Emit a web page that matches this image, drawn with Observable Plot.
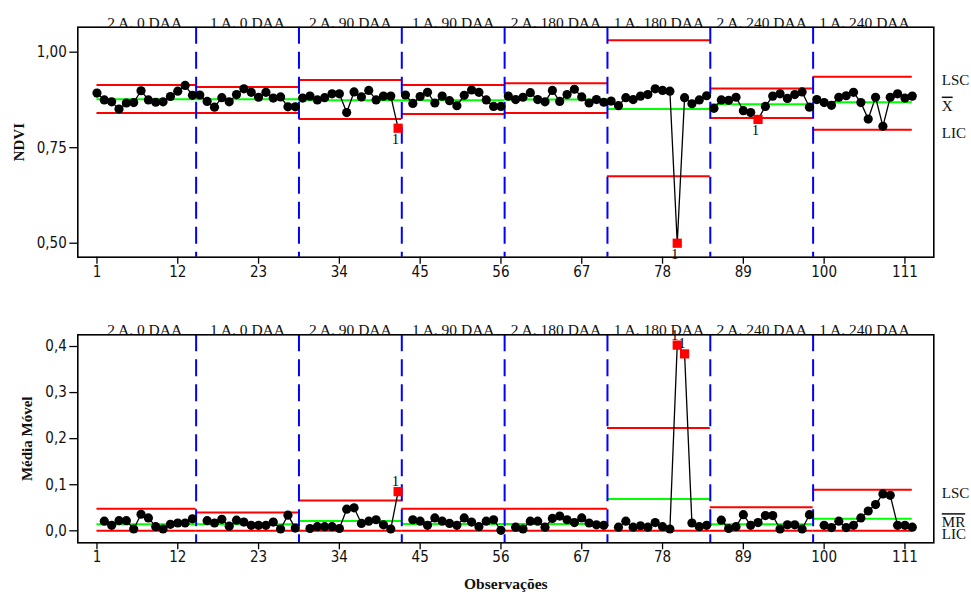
<!DOCTYPE html>
<html>
<head>
<meta charset="utf-8">
<script src="https://cdn.jsdelivr.net/npm/d3@7"></script>
<script src="https://cdn.jsdelivr.net/npm/@observablehq/plot@0.6"></script>
<style>
  html, body { margin: 0; padding: 0; background: #fff; }
  #chart svg { display: block; }
</style>
</head>
<body>
<div id="chart"></div>
<script>
// ---------------- data ----------------
const phaseLabels = ["2 A. 0 DAA", "1 A. 0 DAA", "2 A. 90 DAA", "1 A. 90 DAA",
                     "2 A. 180 DAA", "1 A. 180 DAA", "2 A. 240 DAA", "1 A. 240 DAA"];

const ndvi = [
  0.893, 0.875, 0.870, 0.851, 0.867, 0.868, 0.899, 0.875, 0.869, 0.870, 0.884, 0.898, 0.913, 0.887,
  0.888, 0.871, 0.856, 0.881, 0.870, 0.889, 0.904, 0.895, 0.882, 0.895, 0.880, 0.883, 0.857, 0.857,
  0.880, 0.885, 0.875, 0.881, 0.891, 0.891, 0.842, 0.896, 0.883, 0.900, 0.875, 0.885, 0.885, 0.801,
  0.888, 0.866, 0.884, 0.895, 0.867, 0.885, 0.873, 0.860, 0.887, 0.901, 0.895, 0.875, 0.858, 0.858,
  0.885, 0.876, 0.882, 0.894, 0.876, 0.870, 0.900, 0.871, 0.889, 0.903, 0.883, 0.867, 0.876, 0.869,
  0.872, 0.860, 0.881, 0.876, 0.885, 0.889, 0.904, 0.900, 0.898, 0.500, 0.881, 0.865, 0.875, 0.886,
  0.853, 0.875, 0.874, 0.882, 0.847, 0.842, 0.824, 0.858, 0.885, 0.891, 0.879, 0.889, 0.896, 0.856,
  0.876, 0.868, 0.861, 0.882, 0.886, 0.895, 0.868, 0.825, 0.882, 0.806, 0.882, 0.891, 0.880, 0.885
];

const movingRange = [
  null, 0.021, 0.012, 0.022, 0.022, 0.004, 0.036, 0.028, 0.009, 0.004, 0.014, 0.017, 0.017, 0.026,
  null, 0.022, 0.017, 0.025, 0.010, 0.023, 0.019, 0.012, 0.012, 0.012, 0.019, 0.004, 0.034, 0.006,
  null, 0.005, 0.009, 0.009, 0.009, 0.005, 0.047, 0.050, 0.016, 0.021, 0.024, 0.013, 0.004, 0.085,
  null, 0.024, 0.021, 0.012, 0.028, 0.021, 0.016, 0.012, 0.028, 0.019, 0.009, 0.021, 0.024, 0.001,
  null, 0.008, 0.004, 0.021, 0.021, 0.008, 0.027, 0.032, 0.024, 0.018, 0.028, 0.017, 0.013, 0.012,
  null, 0.008, 0.021, 0.008, 0.011, 0.008, 0.018, 0.009, 0.004, 0.403, 0.384, 0.017, 0.009, 0.012,
  null, 0.023, 0.005, 0.009, 0.035, 0.012, 0.018, 0.033, 0.033, 0.004, 0.013, 0.013, 0.004, 0.035,
  null, 0.012, 0.007, 0.021, 0.007, 0.012, 0.028, 0.043, 0.057, 0.080, 0.077, 0.012, 0.012, 0.008
];

const ndviUCL = [0.914, 0.909, 0.927, 0.914, 0.919, 1.031, 0.905, 0.936];
const ndviCL  = [0.877, 0.877, 0.874, 0.874, 0.876, 0.851, 0.864, 0.869];
const ndviLCL = [0.841, 0.841, 0.825, 0.838, 0.841, 0.675, 0.828, 0.797];

const mrUCL = [0.048, 0.040, 0.066, 0.048, 0.048, 0.223, 0.051, 0.089];
const mrCL  = [0.0143, 0.014, 0.0215, 0.015, 0.015, 0.069, 0.0145, 0.026];
const mrLCL = [0, 0, 0, 0, 0, 0, 0, 0];

const ndviSignals = [42, 80, 91];
const mrSignals   = [42, 80, 81];

const xTicks    = [1, 12, 23, 34, 45, 56, 67, 78, 89, 100, 111];
const ndviTicks = [0.50, 0.75, 1.00];
const mrTicks   = [0, 0.1, 0.2, 0.3, 0.4];

const ndviLimitNames = ["LSC", "X", "LIC"];
const mrLimitNames   = ["LSC", "MR", "LIC"];

const ndviTitle = "NDVI";
const mrTitle = "Média Móvel";
const xTitle = "Observações";

// ---------------- derived tables ----------------
const per = ndvi.length / phaseLabels.length;
const nObs = ndvi.length;
const obs = ndvi.map((v, i) => ({n: i + 1, ndvi: v, mr: movingRange[i], phase: Math.floor(i / per)}));
const phases = phaseLabels.map((label, i) => ({
  label,
  x1: i === 0 ? 1 : i * per + 0.5,
  x2: i === phaseLabels.length - 1 ? nObs : (i + 1) * per + 0.5,
  center: i * per + (per + 1) / 2,
  nUCL: ndviUCL[i], nCL: ndviCL[i], nLCL: ndviLCL[i],
  mUCL: mrUCL[i], mCL: mrCL[i], mLCL: mrLCL[i]
}));
const boundaries = phases.slice(1).map(p => p.x1);

const SANS = "'DejaVu Sans Condensed', 'DejaVu Sans', sans-serif";
const SERIF = "'Liberation Serif', 'Times New Roman', serif";
const RED = "#ff0000", GREEN = "#00ff00", BLUE = "#0000ff";
const W = 971;
const xDomain = [-1.61, 114.93];

function controlChart({height, marginTop, marginBottom, yDomain, yTicks, fmt, key, ucl, cl, lcl,
                       signals, signalDy, limitNames, title, titleDx, showXTitle}) {
  const last = phases[phases.length - 1];
  const limitRows = [
    {name: limitNames[0], y: last[ucl]},
    {name: limitNames[1], y: last[cl]},
    {name: limitNames[2], y: last[lcl]}
  ];
  const sig = obs.filter(d => signals.includes(d.n));
  const normal = obs.filter(d => !signals.includes(d.n) && d[key] != null);
  const marks = [
    Plot.ruleY(phases, {y: ucl, x1: "x1", x2: "x2", stroke: RED, strokeWidth: 2}),
    Plot.ruleY(phases, {y: lcl, x1: "x1", x2: "x2", stroke: RED, strokeWidth: 2}),
    Plot.ruleY(phases, {y: cl, x1: "x1", x2: "x2", stroke: GREEN, strokeWidth: 2}),
    Plot.ruleX(boundaries, {x: d => d, stroke: BLUE, strokeWidth: 2, strokeDasharray: "17,8"}),
    Plot.line(obs, {x: "n", y: key, z: "phase", stroke: "black", strokeWidth: 1.3}),
    Plot.dot(normal, {x: "n", y: key, r: 4.6, fill: "black", stroke: "none"}),
    Plot.dot(sig, {x: "n", y: key, symbol: "square", r: 5.2, fill: RED, stroke: "none"}),
    Plot.text(sig, {x: "n", y: key, text: () => "1", dx: -2.5, dy: signalDy, fontSize: 14,
                    fontFamily: SERIF, fill: "black"}),
    Plot.text(phases, {x: "center", frameAnchor: "top", text: "label", textAnchor: "middle",
                       lineAnchor: "bottom", dy: 0.5, fontSize: 15.5, fontFamily: SERIF, fill: "#111"}),
    Plot.text(limitRows, {y: "y", text: "name", frameAnchor: "right", textAnchor: "start",
                          lineAnchor: "middle", dx: 8, dy: 3.5, fontSize: 15, fontFamily: SERIF, fill: "#111"}),
    Plot.text([title], {frameAnchor: "left", text: d => d, rotate: -90, dx: titleDx,
                        textAnchor: "middle", lineAnchor: "middle",
                        fontSize: 15, fontWeight: "bold", fontFamily: SERIF, fill: "#111"}),
    Plot.frame({stroke: "black", strokeWidth: 1.6}),
    Plot.axisY({ticks: yTicks, tickFormat: fmt, tickSize: 8, tickPadding: 3, strokeWidth: 1.3,
                fontSize: 15, fontFamily: SANS, fill: "#111", label: null}),
    Plot.axisX({ticks: xTicks, tickFormat: d => String(d), tickSize: 7, tickPadding: 2,
                strokeWidth: 1.3, fontSize: 15, fontFamily: SANS, fill: "#111", label: null})
  ];
  if (showXTitle) {
    marks.push(Plot.text([xTitle], {frameAnchor: "bottom", text: d => d, textAnchor: "middle",
                                    lineAnchor: "middle", dy: 41.5,
                                    fontSize: 15.5, fontWeight: "bold", fontFamily: SERIF, fill: "#111"}));
  }
  const svg = Plot.plot({
    width: W, height,
    marginLeft: 77.3, marginRight: W - 933.3, marginTop, marginBottom,
    x: {domain: xDomain},
    y: {domain: yDomain},
    style: {background: "white", fontFamily: SANS, fontSize: "15px", overflow: "visible"},
    marks
  });
  d3.select(svg).selectAll("text")
    .filter(function() { return this.textContent === "X" || this.textContent === "MR"; })
    .attr("text-decoration", "overline")
    .style("text-decoration", "overline");
  return svg;
}

const root = document.getElementById("chart");
root.append(controlChart({
  height: 300, marginTop: 26.7, marginBottom: 43.3,
  yDomain: [0.4634, 1.0654], yTicks: ndviTicks,
  fmt: d => d3.format(".2f")(d).replace(".", ","),
  key: "ndvi", ucl: "nUCL", cl: "nCL", lcl: "nLCL",
  signals: ndviSignals, signalDy: 11, limitNames: ndviLimitNames,
  title: ndviTitle, titleDx: -59, showXTitle: false
}));
root.append(controlChart({
  height: 292, marginTop: 34.3, marginBottom: 49.7,
  yDomain: [-0.026, 0.4254], yTicks: mrTicks,
  fmt: d => d3.format(".1f")(d).replace(".", ","),
  key: "mr", ucl: "mUCL", cl: "mCL", lcl: "mLCL",
  signals: mrSignals, signalDy: -10, limitNames: mrLimitNames,
  title: mrTitle, titleDx: -50.6, showXTitle: true
}));
</script>
</body>
</html>
